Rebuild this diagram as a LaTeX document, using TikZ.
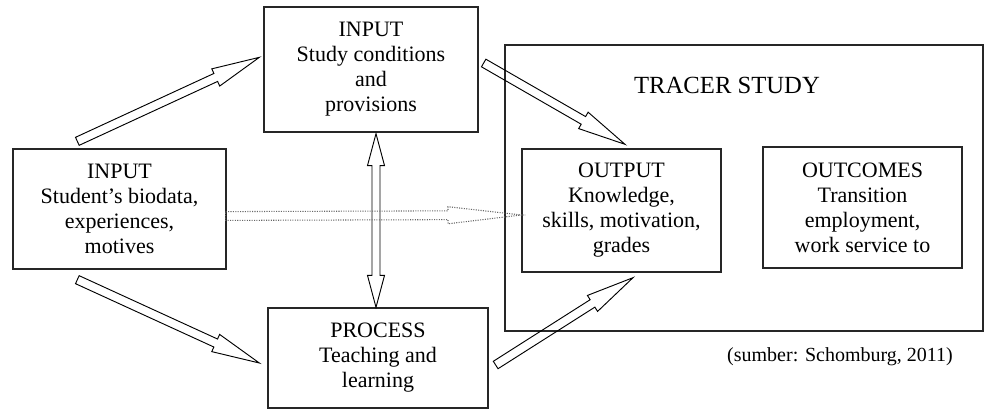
\documentclass[tikz,border=0pt]{standalone}
\usepackage{fontspec}
\setmainfont{Liberation Serif}
\usepackage{tikz}
\usetikzlibrary{calc}

\tikzset{
  box/.style={draw=black!85, line width=1pt, inner sep=0pt, align=center,
    font=\fontsize{16.5}{18.75}\selectfont},
  hollow/.style={draw=black, line width=0.7pt, line join=miter},
  dotarrow/.style={draw=black!60, line width=0.8pt, densely dotted}
}

% block arrow: start, tip, head length, half head width
\newcommand{\blockarrow}[5][]{%
  \coordinate (hb) at ($(#3)!#4!(#2)$);
  \draw[hollow,#1] ($(#2)!3.3pt!90:(#3)$) -- ($(hb)!3.3pt!90:(#3)$) -- ($(hb)!#5!90:(#3)$) -- (#3)
    -- ($(hb)!#5!-90:(#3)$) -- ($(hb)!3.3pt!-90:(#3)$) -- ($(#2)!3.3pt!-90:(#3)$) -- cycle;
}
% block arrow with two heads
\newcommand{\blockarrowboth}[5][]{%
  \coordinate (ha) at ($(#2)!#4!(#3)$);
  \coordinate (hb) at ($(#3)!#4!(#2)$);
  \draw[hollow,#1] (#2) -- ($(ha)!#5!90:(#3)$) -- ($(ha)!3pt!90:(#3)$) -- ($(hb)!3pt!90:(#3)$)
    -- ($(hb)!#5!90:(#3)$) -- (#3) -- ($(hb)!#5!-90:(#3)$) -- ($(hb)!3pt!-90:(#3)$)
    -- ($(ha)!3pt!-90:(#3)$) -- ($(ha)!#5!-90:(#3)$) -- cycle;
}

\begin{document}
\begin{tikzpicture}[x=0.75pt,y=-0.75pt]
  \useasboundingbox (0,0) rectangle (984,410);

  \node (tracer) at (744,188) [box, minimum width=358.5pt, minimum height=214.5pt] {};
  \node (tracertitle) at (727,85) [font=\fontsize{18.5}{22}\selectfont] {TRACER STUDY};

  \node (in1) at (119.5,209) [box, minimum width=159.75pt, minimum height=90pt]
    {INPUT\\Student’s biodata,\\experiences,\\motives};
  \node (in2) at (371,69.5) [box, minimum width=160.5pt, minimum height=93.75pt]
    {INPUT\\Study conditions\\and\\provisions};
  \node (proc) at (378,358) [box, minimum width=165pt, minimum height=75pt]
    {PROCESS\\Teaching and\\learning};
  \node (out) at (621.5,210.5) [box, minimum width=149.25pt, minimum height=92.25pt]
    {OUTPUT\\Knowledge,\\skills, motivation,\\grades};
  \node (outc) at (862.5,207.5) [box, minimum width=149.25pt, minimum height=90.75pt]
    {OUTCOMES\\Transition\\employment,\\work service to};

  \node (source) at (840,357) [font=\fontsize{15}{18}\selectfont] {(sumber: Schomburg, 2011)};

  \coordinate (a1s) at ($(in1.north west)+(65,-7)$);
  \coordinate (a1e) at ($(in2.north west)+(-4,51)$);
  \coordinate (a2s) at ($(in2.east)+(5,-6.5)$);
  \coordinate (a2e) at ($(out.north)+(3.5,-4)$);
  \coordinate (a3s) at ($(in1.south west)+(65,10)$);
  \coordinate (a3e) at ($(proc.west)+(-8,5)$);
  \coordinate (a4s) at ($(proc.east)+(7,7)$);
  \coordinate (a4e) at ($(out.south)+(11.5,5)$);
  \coordinate (vs) at ($(in2.south)+(5,1)$);
  \coordinate (ve) at ($(proc.north)+(-2,0)$);
  \coordinate (ds) at ($(in1.east)+(-1,7)$);
  \coordinate (de) at ($(out.west)+(0,4.5)$);

  \blockarrow{a1s}{a1e}{36pt}{7.1pt}
  \blockarrow{a2s}{a2e}{36pt}{7.1pt}
  \blockarrow{a3s}{a3e}{36pt}{7.1pt}
  \blockarrow{a4s}{a4e}{36pt}{7.1pt}
  \blockarrowboth{vs}{ve}{24pt}{6.4pt}
  \blockarrow[dotarrow]{ds}{de}{55pt}{6.4pt}
\end{tikzpicture}
\end{document}
